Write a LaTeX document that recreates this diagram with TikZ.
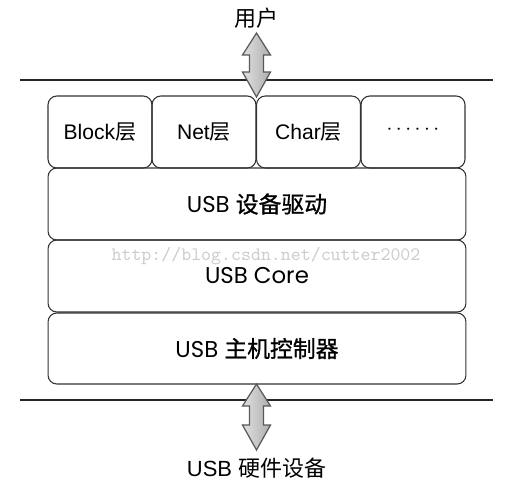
\documentclass[tikz,border=0pt]{standalone}
\usepackage{fontspec}
\setmainfont{Liberation Sans}
\newfontfamily\cjk{Noto Sans CJK SC}
\newfontfamily\cjkh[FakeBold=1]{Noto Sans CJK SC}
\newfontfamily\gothic{Poppins}
\usetikzlibrary{calc}

% fat double arrow between two named coordinates
\newcommand{\dblarrow}[2]{%
  \draw[bigarrow] (#1) -- ++(14,22) -- ++(-7,0) -- ($(#2)+(7,-25)$) -- ++(7,0)
    -- (#2) -- ++(-14,-25) -- ++(7,0) -- ($(#1)+(-7,22)$) -- ++(-7,0) -- cycle;}

\begin{document}
\begin{tikzpicture}
        [x=0.02cm, y=-0.02cm,
        small/.style={draw=black!80, line width=0.6pt, rounded corners=5pt, minimum width=2.08cm, minimum height=1.44cm, inner sep=0pt, font=\fontsize{12}{14}\selectfont},
        wide/.style={draw=black!80, line width=0.6pt, rounded corners=5pt, minimum width=8.36cm, minimum height=1.44cm, inner sep=0pt, font=\gothic\fontsize{13}{15}\selectfont},
        label/.style={inner sep=0pt, font=\fontsize{12.5}{15}\selectfont},
        sep/.style={black!85, line width=0.7pt},
        bigarrow/.style={draw=black!65, line width=0.7pt, left color=black!12, right color=black!32, line join=miter}]

        \useasboundingbox (0,0) rectangle (512,488);

        % outside labels
        \node[label] (user) at (256.5,18) {\cjk 用户};
        \node[label] (hw) at (256.5,468) {USB {\cjk 硬件设备}};

        % separator lines
        \coordinate (tl) at (20,80);
        \coordinate (tr) at (493,80);
        \coordinate (bl) at (20,400);
        \coordinate (br) at (493,400);
        \draw[sep] (tl) -- (tr);
        \draw[sep] (bl) -- (br);

        % top row
        \node[small] (block) at (100,132) {Block{\cjk 层}};
        \node[small] (net) at (204,132) {Net{\cjk 层}};
        \node[small] (char) at (308.5,132) {Char{\cjk 层}};
        \node[small] (more) at (413,132) {\raisebox{2pt}{$\cdots\cdots$}};

        % layers
        \node[wide] (drv) at (257,204) {USB {\cjkh 设备驱动}};
        \node[wide] (core) at (257,276) {USB Core};
        \node[wide, minimum height=1.42cm] (hcd) at (257,348.5) {USB {\cjkh 主机控制器}};

        % watermark
        \node[text=black!20, font=\ttfamily\fontsize{10.8}{12}\selectfont, inner sep=0pt] (wm) at (266,256) {http://blog.csdn.net/cutter2002};

        % arrows
        \coordinate (a1) at (256.5,33);
        \coordinate (a2) at (256.5,97);
        \coordinate (b1) at (256.5,384);
        \coordinate (b2) at (256.5,450);
        \dblarrow{a1}{a2}
        \dblarrow{b1}{b2}

        \end{tikzpicture}
\end{document}
